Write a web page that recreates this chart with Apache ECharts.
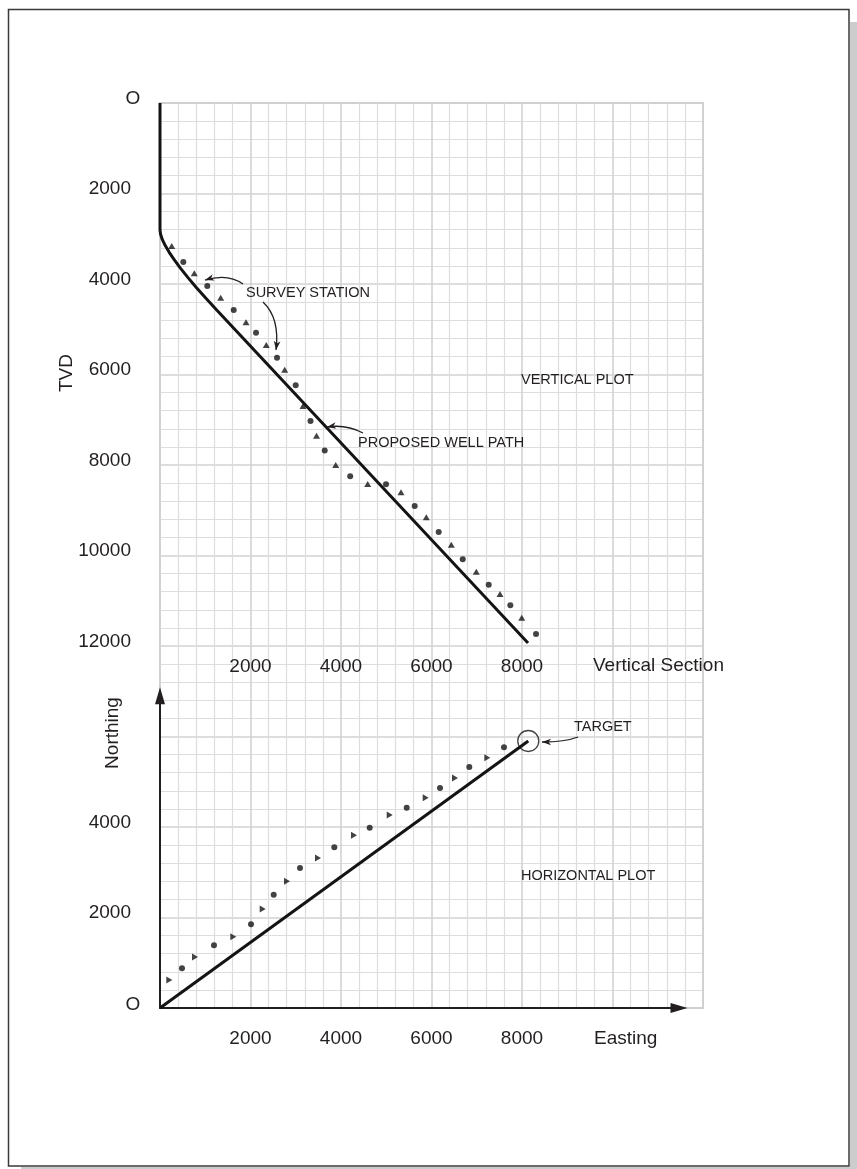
<!DOCTYPE html>
<html><head><meta charset="utf-8">
<script src="https://cdn.jsdelivr.net/npm/echarts@6/dist/echarts.min.js"></script>
<style>html,body{margin:0;padding:0;background:#fff}#c{width:857px;height:1169px}</style>
</head><body><div id="c"></div>
<script>
// ---- Vertical plot: proposed well path (vertical section, TVD) ----
const pathVS  = [0, 0, 13, 50, 113, 200, 313, 451, 614, 802, 1015, 1253, 8133];
const pathTVD = [0, 2807, 2902, 3015, 3146, 3295, 3463, 3649, 3853, 4076, 4316, 4575, 11934];
// survey stations (vertical plot)
const vTriVS  = [259, 758, 1341, 1901, 2349, 2756, 3160, 3459, 3883, 4590, 5326, 5885, 6438, 6990, 7514, 7994];
const vTriTVD = [3160, 3764, 4303, 4847, 5348, 5894, 6696, 7353, 8000, 8420, 8604, 9156, 9761, 10358, 10851, 11375];
const vDotVS  = [515, 1045, 1629, 2122, 2586, 2999, 3326, 3640, 4203, 4995, 5629, 6159, 6690, 7264, 7742, 8310];
const vDotTVD = [3514, 4044, 4575, 5076, 5629, 6239, 7028, 7680, 8248, 8427, 8906, 9481, 10084, 10646, 11101, 11735];
// ---- Horizontal plot ----
const hPathE = [0, 8139];
const hPathN = [0, 5901];
const hTriE = [206, 774, 1620, 2270, 2807, 3492, 4287, 5076, 5872, 6520, 7233];
const hTriN = [619, 1127, 1576, 2188, 2800, 3315, 3817, 4265, 4648, 5083, 5532];
const hDotE = [486, 1193, 2011, 2513, 3094, 3852, 4634, 5452, 6188, 6835, 7602];
const hDotN = [877, 1386, 1850, 2504, 3094, 3551, 3985, 4427, 4862, 5326, 5760];
const targetE = [8139];
const targetN = [5901];
// ---- tick labels ----
const tvdTicks = [2000, 4000, 6000, 8000, 10000, 12000];
const vsTicks = [2000, 4000, 6000, 8000];
const northTicks = [2000, 4000];
const eastTicks = [2000, 4000, 6000, 8000];
const originLabel = 'O';

const zip = (a, b) => a.map((v, i) => [v, b[i]]);
const INK = '#231f20';
const MARK = '#141414';
const FONT = '"Liberation Sans", Arial, sans-serif';
const CELL = 18.1, X0 = 160, Y0 = 103, UNIT = 400;
const px = v => v / UNIT * CELL;
const eastMax = 11470, northMax = 6900;
const yBottom = Y0 + 50 * CELL;

const chart = echarts.init(document.getElementById('c'), null, {renderer: 'canvas'});
const lbl = (ticks) => (v) => ticks.includes(v) ? String(v) : '';

const paperMajor = {show: true, lineStyle: {color: '#d2d2d2', width: 1.6}};
const paperMinor = {show: true, lineStyle: {color: '#dddddd', width: 1.2}};

const option = {
  animation: false,
  backgroundColor: '#fff',
  grid: [
    {left: X0, top: Y0, width: 30 * CELL, height: 50 * CELL, show: true, borderColor: '#cccccc', borderWidth: 2, backgroundColor: 'transparent'},
    {left: X0, top: Y0, width: px(12000), height: px(12000)},
    {left: X0, top: yBottom - px(northMax), width: px(eastMax), height: px(northMax)}
  ],
  xAxis: [
    {gridIndex: 0, type: 'value', min: 0, max: 12000, interval: 2000,
     axisLine: {show: false}, axisTick: {show: false}, axisLabel: {show: false},
     splitLine: paperMajor, minorTick: {show: false, splitNumber: 5}, minorSplitLine: paperMinor},
    {gridIndex: 1, type: 'value', min: 0, max: 12000, interval: 2000, position: 'bottom',
     axisLine: {show: false}, axisTick: {show: false}, splitLine: {show: false},
     axisLabel: {show: true, margin: 11, fontSize: 19, fontFamily: FONT, color: INK, formatter: lbl(vsTicks), showMinLabel: true, showMaxLabel: true}},
    {gridIndex: 2, type: 'value', min: 0, max: eastMax, interval: 2000, position: 'bottom',
     axisLine: {show: true, symbol: ['none', 'triangle'], symbolSize: [10, 17], lineStyle: {color: INK, width: 2}},
     axisTick: {show: false}, splitLine: {show: false},
     axisLabel: {show: true, margin: 21, fontSize: 19, fontFamily: FONT, color: INK, formatter: lbl(eastTicks), showMaxLabel: false}}
  ],
  yAxis: [
    {gridIndex: 0, type: 'value', min: 0, max: 20000, interval: 2000, inverse: true,
     axisLine: {show: false}, axisTick: {show: false}, axisLabel: {show: false},
     splitLine: paperMajor, minorTick: {show: false, splitNumber: 5}, minorSplitLine: paperMinor},
    {gridIndex: 1, type: 'value', min: 0, max: 12000, interval: 2000, inverse: true,
     axisLine: {show: false}, axisTick: {show: false}, splitLine: {show: false},
     axisLabel: {show: true, margin: 29, fontSize: 19, fontFamily: FONT, color: INK, verticalAlign: 'bottom', lineHeight: 9, formatter: lbl(tvdTicks), showMinLabel: true, showMaxLabel: true}},
    {gridIndex: 2, type: 'value', min: 0, max: northMax, interval: 2000,
     axisLine: {show: true, symbol: ['none', 'triangle'], symbolSize: [10, 17], lineStyle: {color: INK, width: 2}},
     axisTick: {show: false}, splitLine: {show: false},
     axisLabel: {show: true, margin: 29, fontSize: 19, fontFamily: FONT, color: INK, verticalAlign: 'bottom', lineHeight: 9, formatter: lbl(northTicks), showMinLabel: true, showMaxLabel: false}}
  ],
  series: [
    {type: 'line', xAxisIndex: 1, yAxisIndex: 1, data: zip(pathVS, pathTVD), showSymbol: false, symbol: 'none',
     lineStyle: {color: MARK, width: 3}, z: 5},
    {type: 'scatter', xAxisIndex: 1, yAxisIndex: 1, data: zip(vTriVS, vTriTVD), symbol: 'triangle', symbolSize: [7, 6],
     itemStyle: {color: MARK}, z: 4},
    {type: 'scatter', xAxisIndex: 1, yAxisIndex: 1, data: zip(vDotVS, vDotTVD), symbol: 'circle', symbolSize: 6,
     itemStyle: {color: MARK}, z: 4},
    {type: 'line', xAxisIndex: 2, yAxisIndex: 2, data: zip(hPathE, hPathN), showSymbol: false, symbol: 'none',
     lineStyle: {color: MARK, width: 3}, z: 5},
    {type: 'scatter', xAxisIndex: 2, yAxisIndex: 2, data: zip(hTriE, hTriN), symbol: 'triangle', symbolRotate: -90, symbolSize: [7, 6],
     itemStyle: {color: MARK}, z: 4},
    {type: 'scatter', xAxisIndex: 2, yAxisIndex: 2, data: zip(hDotE, hDotN), symbol: 'circle', symbolSize: 6,
     itemStyle: {color: MARK}, z: 4},
    {type: 'scatter', xAxisIndex: 2, yAxisIndex: 2, data: zip(targetE, targetN), symbol: 'circle', symbolSize: 21,
     itemStyle: {color: 'rgba(0,0,0,0)', borderColor: MARK, borderWidth: 1.3}, z: 6}
  ]
};
chart.setOption(option);

// ---- annotations (anchored in data coordinates) ----
const toV = p => chart.convertToPixel({gridIndex: 1}, p);
const toH = p => chart.convertToPixel({gridIndex: 2}, p);

function txt(p, text, size, align, rot, dx, dy) {
  return {type: 'text', x: p[0] + (dx || 0), y: p[1] + (dy || 0), rotation: rot || 0, z: 50,
    style: {text, font: size + 'px ' + FONT, fill: INK, align: align || 'left', verticalAlign: 'middle',
            textAlign: align || 'left', textVerticalAlign: 'middle'}};
}
function arrow(s, c, e) {
  const out = [];
  out.push({type: 'bezierCurve', z: 50, shape: {x1: s[0], y1: s[1], cpx1: c[0], cpy1: c[1], x2: e[0], y2: e[1]},
    style: {stroke: INK, lineWidth: 1.3, fill: null}});
  const dx = e[0] - c[0], dy = e[1] - c[1], L = Math.hypot(dx, dy);
  const ux = dx / L, uy = dy / L, len = 9, hw = 3.3;
  const bx = e[0] - ux * len, by = e[1] - uy * len;
  out.push({type: 'polygon', z: 50, shape: {points: [[e[0], e[1]], [bx - uy * hw, by + ux * hw], [bx + ux * 2.5, by + uy * 2.5], [bx + uy * hw, by - ux * hw]]},
    style: {fill: INK}});
  return out;
}
const graphics = [
  // page frame with shadow
  {type: 'rect', z: -10, shape: {x: 850, y: 22, width: 7, height: 1147}, style: {fill: '#cccccc'}},
  {type: 'rect', z: -10, shape: {x: 21, y: 1167, width: 836, height: 2}, style: {fill: '#cccccc'}},
  {type: 'rect', z: -9, shape: {x: 8.5, y: 9.5, width: 840.5, height: 1156.5}, style: {fill: null, stroke: '#3a3a3a', lineWidth: 1.5}},
  // origin labels
  txt(toV([0, 0]), originLabel, 19, 'center', 0, -27, -4),
  txt(toH([0, 0]), originLabel, 19, 'center', 0, -27, -3),
  txt(toV([1900, 4199]), 'SURVEY STATION', 14.5),
  txt(toV([7978, 6122]), 'VERTICAL PLOT', 14.5),
  txt(toV([4376, 7514]), 'PROPOSED WELL PATH', 14.5),
  txt(toV([9569, 12442]), 'Vertical Section', 19),
  txt(toV([-2055, 5967]), 'TVD', 19, 'center', Math.PI / 2),
  txt(toH([9149, 6210]), 'TARGET', 14.5),
  txt(toH([7978, 2917]), 'HORIZONTAL PLOT', 14.5),
  txt(toH([9591, -685]), 'Easting', 19),
  txt(toH([-1039, 6078]), 'Northing', 19, 'center', Math.PI / 2),
  ...arrow(toV([1834, 4000]), toV([1503, 3757]), toV([994, 3912])),
  ...arrow(toV([2276, 4398]), toV([2652, 4752]), toV([2564, 5459])),
  ...arrow(toV([4486, 7293]), toV([4111, 7094]), toV([3691, 7160])),
  ...arrow(toH([9238, 5989]), toH([8951, 5878]), toH([8442, 5878]))
];
chart.setOption({graphic: graphics});
</script>
</body></html>
